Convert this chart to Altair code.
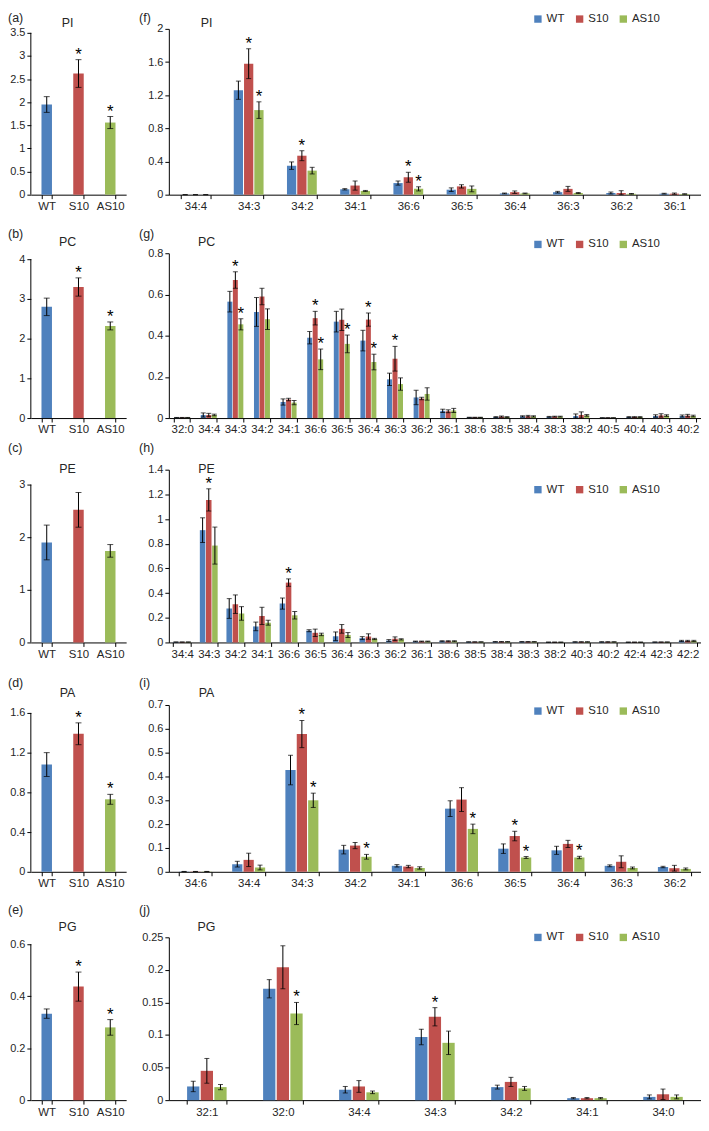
import altair as alt
import pandas as pd

FONT = "Liberation Sans"
TXT = "#262626"

GROUPS = ["WT", "S10", "AS10"]
COLORS = ["#4F81BD", "#C0504D", "#9BBB59"]

# ---------------- totals (a)-(e) ----------------
PI_TOT = [1.95, 2.62, 1.56]
PI_TOT_ERR = [0.17, 0.30, 0.13]
PI_TOT_STAR = ["", "*", "*"]
PI_TOT_TICKS = [0, 0.5, 1, 1.5, 2, 2.5, 3, 3.5]

PC_TOT = [2.80, 3.30, 2.32]
PC_TOT_ERR = [0.22, 0.23, 0.10]
PC_TOT_STAR = ["", "*", "*"]
PC_TOT_TICKS = [0, 1, 2, 3, 4]

PE_TOT = [1.90, 2.52, 1.74]
PE_TOT_ERR = [0.33, 0.33, 0.12]
PE_TOT_STAR = ["", "", ""]
PE_TOT_TICKS = [0, 1, 2, 3]

PA_TOT = [1.08, 1.39, 0.73]
PA_TOT_ERR = [0.12, 0.11, 0.05]
PA_TOT_STAR = ["", "*", "*"]
PA_TOT_TICKS = [0, 0.4, 0.8, 1.2, 1.6]

PG_TOT = [0.333, 0.437, 0.280]
PG_TOT_ERR = [0.018, 0.056, 0.030]
PG_TOT_STAR = ["", "*", "*"]
PG_TOT_TICKS = [0, 0.2, 0.4, 0.6]

# ---------------- molecular species (f)-(j) ----------------
PI_SPECIES = ["34:4", "34:3", "34:2", "34:1", "36:6", "36:5", "36:4", "36:3", "36:2", "36:1"]
PI_WT = [0, 1.26, 0.35, 0.065, 0.14, 0.06, 0.015, 0.03, 0.02, 0.012]
PI_WT_ERR = [0, 0.11, 0.045, 0.008, 0.025, 0.022, 0.005, 0.01, 0.012, 0.005]
PI_S10 = [0, 1.58, 0.47, 0.11, 0.21, 0.10, 0.03, 0.07, 0.02, 0.012]
PI_S10_ERR = [0, 0.18, 0.06, 0.055, 0.06, 0.02, 0.015, 0.03, 0.028, 0.008]
PI_AS10 = [0, 1.02, 0.29, 0.045, 0.07, 0.07, 0.015, 0.02, 0.01, 0.008]
PI_AS10_ERR = [0, 0.10, 0.04, 0.006, 0.025, 0.035, 0.005, 0.006, 0.004, 0.003]
PI_STARS = [("34:3", "S10"), ("34:3", "AS10"), ("34:2", "S10"), ("36:6", "S10"), ("36:6", "AS10")]
PI_TICKS = [0, 0.4, 0.8, 1.2, 1.6, 2]

PC_SPECIES = ["32:0", "34:4", "34:3", "34:2", "34:1", "36:6", "36:5", "36:4", "36:3", "36:2",
              "36:1", "38:6", "38:5", "38:4", "38:3", "38:2", "40:5", "40:4", "40:3", "40:2"]
PC_WT = [0.002, 0.015, 0.565, 0.515, 0.078, 0.39, 0.468, 0.376, 0.188, 0.10,
         0.035, 0.003, 0.005, 0.008, 0.006, 0.010, 0.001, 0.005, 0.010, 0.010]
PC_WT_ERR = [0.001, 0.010, 0.050, 0.070, 0.015, 0.030, 0.050, 0.050, 0.030, 0.035,
             0.008, 0.001, 0.002, 0.003, 0.002, 0.010, 0.0005, 0.002, 0.006, 0.005]
PC_S10 = [0.002, 0.015, 0.670, 0.590, 0.090, 0.485, 0.477, 0.478, 0.288, 0.095,
          0.033, 0.003, 0.007, 0.009, 0.007, 0.015, 0.001, 0.005, 0.013, 0.012]
PC_S10_ERR = [0.001, 0.008, 0.040, 0.040, 0.006, 0.033, 0.052, 0.032, 0.060, 0.006,
              0.007, 0.001, 0.003, 0.004, 0.002, 0.015, 0.0005, 0.002, 0.008, 0.006]
PC_AS10 = [0.002, 0.015, 0.455, 0.480, 0.075, 0.285, 0.360, 0.272, 0.165, 0.117,
           0.037, 0.003, 0.005, 0.008, 0.007, 0.013, 0.001, 0.005, 0.012, 0.010]
PC_AS10_ERR = [0.001, 0.004, 0.027, 0.050, 0.010, 0.050, 0.043, 0.038, 0.030, 0.030,
               0.010, 0.001, 0.002, 0.003, 0.002, 0.004, 0.0005, 0.002, 0.004, 0.004]
PC_STARS = [("34:3", "S10"), ("34:3", "AS10"), ("36:6", "S10"), ("36:6", "AS10"),
            ("36:5", "AS10"), ("36:4", "S10"), ("36:4", "AS10"), ("36:3", "S10")]
PC_TICKS = [0, 0.2, 0.4, 0.6, 0.8]

PE_SPECIES = ["34:4", "34:3", "34:2", "34:1", "36:6", "36:5", "36:4", "36:3", "36:2", "36:1",
              "38:6", "38:5", "38:4", "38:3", "38:2", "40:3", "40:2", "42:4", "42:3", "42:2"]
PE_WT = [0.003, 0.91, 0.275, 0.13, 0.315, 0.095, 0.05, 0.035, 0.015, 0.008,
         0.010, 0.004, 0.005, 0.005, 0.002, 0.004, 0.004, 0.002, 0.003, 0.012]
PE_WT_ERR = [0.001, 0.10, 0.08, 0.035, 0.045, 0.008, 0.035, 0.012, 0.008, 0.003,
             0.004, 0.001, 0.002, 0.002, 0.001, 0.002, 0.002, 0.001, 0.001, 0.005]
PE_S10 = [0.003, 1.155, 0.31, 0.215, 0.485, 0.078, 0.11, 0.048, 0.03, 0.008,
          0.010, 0.004, 0.005, 0.005, 0.002, 0.004, 0.004, 0.002, 0.003, 0.012]
PE_S10_ERR = [0.001, 0.09, 0.075, 0.07, 0.03, 0.03, 0.035, 0.022, 0.015, 0.003,
              0.004, 0.001, 0.002, 0.002, 0.001, 0.002, 0.002, 0.001, 0.001, 0.005]
PE_AS10 = [0.003, 0.785, 0.235, 0.16, 0.22, 0.065, 0.06, 0.028, 0.025, 0.008,
           0.010, 0.004, 0.005, 0.005, 0.002, 0.004, 0.004, 0.002, 0.003, 0.012]
PE_AS10_ERR = [0.001, 0.15, 0.055, 0.02, 0.03, 0.01, 0.02, 0.005, 0.005, 0.003,
               0.004, 0.001, 0.002, 0.002, 0.001, 0.002, 0.002, 0.001, 0.001, 0.005]
PE_STARS = [("34:3", "S10"), ("36:6", "S10")]
PE_TICKS = [0, 0.2, 0.4, 0.6, 0.8, 1, 1.2, 1.4]

PA_SPECIES = ["34:6", "34:4", "34:3", "34:2", "34:1", "36:6", "36:5", "36:4", "36:3", "36:2"]
PA_WT = [0.001, 0.032, 0.427, 0.093, 0.025, 0.265, 0.097, 0.09, 0.025, 0.02]
PA_WT_ERR = [0.0005, 0.012, 0.062, 0.018, 0.005, 0.033, 0.02, 0.017, 0.004, 0.003]
PA_S10 = [0.001, 0.05, 0.578, 0.11, 0.022, 0.303, 0.15, 0.117, 0.042, 0.015]
PA_S10_ERR = [0.0005, 0.028, 0.057, 0.013, 0.005, 0.05, 0.02, 0.015, 0.025, 0.012]
PA_AS10 = [0.001, 0.018, 0.30, 0.063, 0.016, 0.18, 0.06, 0.06, 0.016, 0.012]
PA_AS10_ERR = [0.0005, 0.01, 0.03, 0.01, 0.005, 0.02, 0.004, 0.005, 0.004, 0.004]
PA_STARS = [("34:3", "S10"), ("34:3", "AS10"), ("34:2", "AS10"), ("36:6", "AS10"),
            ("36:5", "S10"), ("36:5", "AS10"), ("36:4", "AS10")]
PA_TICKS = [0, 0.1, 0.2, 0.3, 0.4, 0.5, 0.6, 0.7]

PG_SPECIES = ["32:1", "32:0", "34:4", "34:3", "34:2", "34:1", "34:0"]
PG_WT = [0.021, 0.171, 0.016, 0.097, 0.02, 0.003, 0.005]
PG_WT_ERR = [0.008, 0.014, 0.005, 0.012, 0.003, 0.001, 0.003]
PG_S10 = [0.045, 0.204, 0.021, 0.128, 0.028, 0.003, 0.009]
PG_S10_ERR = [0.019, 0.033, 0.009, 0.014, 0.007, 0.001, 0.008]
PG_AS10 = [0.02, 0.133, 0.012, 0.088, 0.018, 0.003, 0.005]
PG_AS10_ERR = [0.004, 0.017, 0.002, 0.018, 0.003, 0.001, 0.003]
PG_STARS = [("32:0", "AS10"), ("34:3", "S10")]
PG_TICKS = [0, 0.05, 0.1, 0.15, 0.2, 0.25]


def total_df(means, errs, stars):
    return pd.DataFrame({
        "grp": GROUPS,
        "mean": means,
        "lo": [max(m - e, 0) for m, e in zip(means, errs)],
        "hi": [m + e for m, e in zip(means, errs)],
        "star": stars,
    })


def species_df(cats, means, errs, stars):
    rows = []
    for g, ms, es in zip(GROUPS, means, errs):
        for c, m, e in zip(cats, ms, es):
            rows.append({"cat": c, "grp": g, "mean": m, "lo": max(m - e, 0), "hi": m + e,
                         "star": "*" if (c, g) in stars else ""})
    return pd.DataFrame(rows)


def x_axis(ext):
    return alt.Axis(title=None, labelAngle=0, tickBand="extent", grid=False,
                    domainColor="black", domainWidth=1, tickColor="black", tickSize=4,
                    labelPadding=2, labelFont=FONT, labelFontSize=11.5, labelColor=TXT,
                    labelOverlap=False, minExtent=ext, maxExtent=ext)


def y_axis(ticks, ext, domain=True):
    return alt.Axis(values=ticks, format="~g", title=None, grid=False, domain=domain,
                    domainColor="black", domainWidth=1, tickColor="black", tickSize=4,
                    labelPadding=2, labelFont=FONT, labelFontSize=11, labelColor=TXT,
                    labelOverlap=False, labelFlush=False, minExtent=ext, maxExtent=ext)


def text_layer(txt, x, y, align, baseline, size=12.5):
    return alt.Chart(pd.DataFrame({"t": [txt]})).mark_text(
        font=FONT, fontSize=size, align=align, baseline=baseline, color=TXT
    ).encode(x=alt.value(x), y=alt.value(y), text="t:N")


def panel(df, xenc, xoff, ytop, ticks, width, height, yext, label, label_x,
          label_y, title, title_x, title_y, legend_y=None, axis_line=False, cap=5):
    yscale = alt.Scale(domain=[0, ytop], nice=False, zero=True)
    yax = y_axis(ticks, yext, domain=not axis_line)
    enc = {"x": xenc}
    if xoff is not None:
        enc["xOffset"] = xoff
    if legend_y is None:
        leg = None
    else:
        leg = alt.Legend(title=None, orient="none", legendX=366, legendY=legend_y,
                         direction="horizontal", symbolType="square", symbolSize=55,
                         symbolStrokeWidth=0, labelFont=FONT, labelFontSize=11.5,
                         labelColor=TXT, columnPadding=9, labelOffset=3)
    color = alt.Color("grp:N", sort=GROUPS, scale=alt.Scale(domain=GROUPS, range=COLORS),
                      legend=leg)
    base = alt.Chart(df)
    bars = base.mark_bar().encode(y=alt.Y("mean:Q", scale=yscale, axis=yax), color=color, **enc)
    err = base.mark_rule(color="black", strokeWidth=1).encode(
        y=alt.Y("lo:Q", scale=yscale, axis=yax), y2="hi:Q", **enc)
    cap_hi = base.mark_tick(color="black", thickness=1, size=cap).encode(
        y=alt.Y("hi:Q", scale=yscale, axis=yax), **enc)
    cap_lo = base.mark_tick(color="black", thickness=1, size=cap).encode(
        y=alt.Y("lo:Q", scale=yscale, axis=yax), **enc)
    stars = base.mark_text(font=FONT, fontSize=17, baseline="alphabetic", dy=0,
                           color="black").encode(
        y=alt.Y("hi:Q", scale=yscale, axis=yax), text="star:N", **enc)
    layers = [bars, err, cap_hi, cap_lo, stars,
              text_layer(label, label_x, label_y, "left", "top"),
              text_layer(title, title_x, title_y, "center", "middle")]
    if axis_line:
        layers.append(alt.Chart(pd.DataFrame({"v": [0]})).mark_rule(
            color="black", strokeWidth=1).encode(
            x=alt.value(0),
            y=alt.Y(datum=0, scale=yscale, axis=yax),
            y2=alt.datum(ticks[-1])))
    return alt.layer(*layers).properties(width=width, height=height)


LEFT_W = 96
RIGHT_W = 536

ROWS = [
    dict(name="PI", labels=("(a)", "(f)"),
         tot=(PI_TOT, PI_TOT_ERR, PI_TOT_STAR, PI_TOT_TICKS),
         sp=(PI_SPECIES, [PI_WT, PI_S10, PI_AS10], [PI_WT_ERR, PI_S10_ERR, PI_AS10_ERR],
             PI_STARS, PI_TICKS),
         H=167, d=4, xext=34, lab=-17, tit=-6, leg=-16, pad=0.44),
    dict(name="PC", labels=("(b)", "(g)"),
         tot=(PC_TOT, PC_TOT_ERR, PC_TOT_STAR, PC_TOT_TICKS),
         sp=(PC_SPECIES, [PC_WT, PC_S10, PC_AS10], [PC_WT_ERR, PC_S10_ERR, PC_AS10_ERR],
             PC_STARS, PC_TICKS),
         H=166, d=6, xext=24, lab=-25, tit=-11, leg=-15, pad=0.4),
    dict(name="PE", labels=("(c)", "(h)"),
         tot=(PE_TOT, PE_TOT_ERR, PE_TOT_STAR, PE_TOT_TICKS),
         sp=(PE_SPECIES, [PE_WT, PE_S10, PE_AS10], [PE_WT_ERR, PE_S10_ERR, PE_AS10_ERR],
             PE_STARS, PE_TICKS),
         H=174, d=15, xext=35, lab=-28, tit=-1, leg=14, pad=0.33),
    dict(name="PA", labels=("(d)", "(i)"),
         tot=(PA_TOT, PA_TOT_ERR, PA_TOT_STAR, PA_TOT_TICKS),
         sp=(PA_SPECIES, [PA_WT, PA_S10, PA_AS10], [PA_WT_ERR, PA_S10_ERR, PA_AS10_ERR],
             PA_STARS, PA_TICKS),
         H=168, d=8, xext=33, lab=-28, tit=-12, leg=0, pad=0.38),
    dict(name="PG", labels=("(e)", "(j)"),
         tot=(PG_TOT, PG_TOT_ERR, PG_TOT_STAR, PG_TOT_TICKS),
         sp=(PG_SPECIES, [PG_WT, PG_S10, PG_AS10], [PG_WT_ERR, PG_S10_ERR, PG_AS10_ERR],
             PG_STARS, PG_TICKS),
         H=164, d=7, xext=18, lab=-33, tit=-10, leg=-6, pad=0.48),
]

rows = []
for r in ROWS:
    means, errs, tstars, tticks = r["tot"]
    H = r["H"]
    left_top = tticks[-1] * H / (H - r["d"])
    left = panel(
        total_df(means, errs, tstars),
        alt.X("grp:N", sort=GROUPS, scale=alt.Scale(paddingInner=0.67, paddingOuter=0.335),
              axis=x_axis(r["xext"])),
        None, left_top, tticks, LEFT_W, H, 23,
        r["labels"][0], -23, r["lab"], r["name"], 37, r["tit"],
        legend_y=None, axis_line=True, cap=6)

    cats, sm, se, sstars, sticks = r["sp"]
    right = panel(
        species_df(cats, sm, se, sstars),
        alt.X("cat:N", sort=cats, scale=alt.Scale(paddingInner=r["pad"], paddingOuter=r["pad"] / 2),
              axis=x_axis(r["xext"])),
        alt.XOffset("grp:N", sort=GROUPS, scale=alt.Scale(paddingInner=0.1)),
        sticks[-1], sticks, RIGHT_W, H, 30,
        r["labels"][1], -30, r["lab"], r["name"], 38, r["tit"],
        legend_y=r["leg"], axis_line=False, cap=5)

    row = alt.hconcat(left, right, spacing=13).resolve_scale(
        color="independent", xOffset="independent").resolve_legend(color="independent")
    rows.append(row)

chart = alt.vconcat(*rows, spacing=0).resolve_scale(
    color="independent", xOffset="independent").resolve_legend(
    color="independent").properties(padding=0).configure_view(stroke=None)

chart.save("out.html", embed_options={"renderer": "svg", "actions": False})
